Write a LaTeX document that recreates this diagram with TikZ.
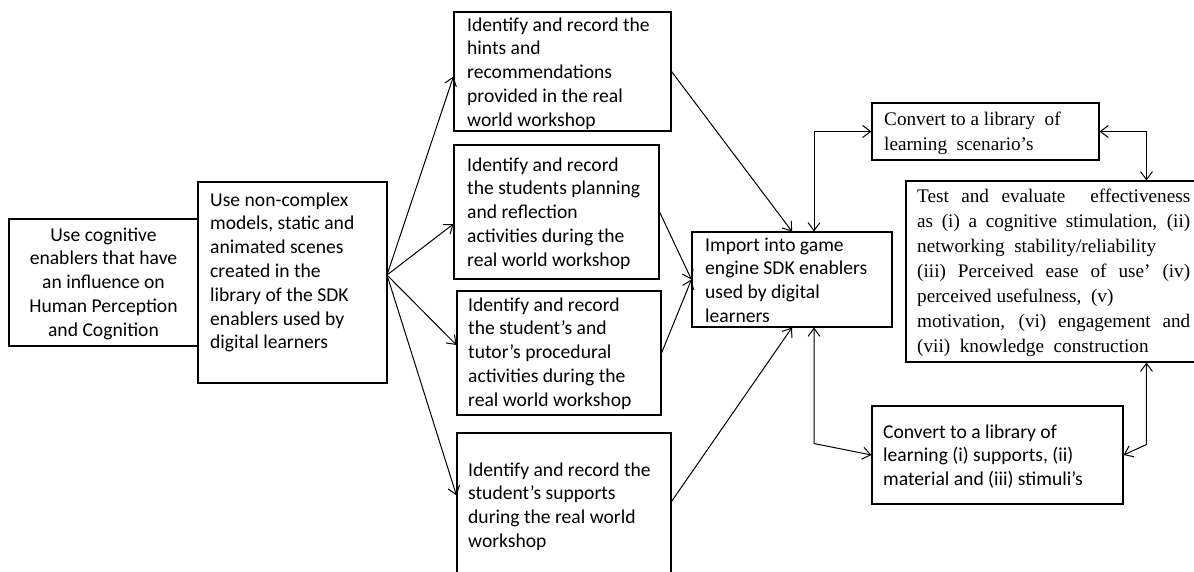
\documentclass[tikz,border=0pt]{standalone}
\usepackage{fontspec}
\setmainfont{Carlito}
\newfontfamily\serifface{Liberation Serif}
\usetikzlibrary{arrows.meta,fit}
\begin{document}
\begin{tikzpicture}[x=1bp,y=-1bp,
  box/.style={draw, line width=1.1bp, inner sep=0pt},
  txt/.style={inner sep=0pt, anchor=north west, align=left,
    font=\fontsize{19.6bp}{23.8bp}\selectfont},
  stxt/.style={inner sep=0pt, anchor=north west, align=left,
    font=\serifface\fontsize{19.2bp}{25bp}\selectfont},
  tip/.tip={Straight Barb[length=8bp,width=12bp]},
  link/.style={line width=1bp, -tip},
  dlink/.style={line width=1bp, tip-tip}]

\useasboundingbox (0,0) rectangle (1194,572);
\clip (0,0) rectangle (1194,572);

% boxes
\node[box, fit={(9,219)(198,346)}] (A) {};
\node[box, fit={(198,182)(387,383)}] (B) {};
\node[box, fit={(454,12)(671,131)}] (C1) {};
\node[box, fit={(454,145)(659,279)}] (C2) {};
\node[box, fit={(457,291)(661,415)}] (C3) {};
\node[box, fit={(457,433)(671,590)}] (C4) {};
\node[box, fit={(692,232)(892,327)}] (D) {};
\node[box, fit={(872,103)(1099,160)}] (E) {};
\node[box, fit={(906,181)(1215,362)}] (F) {};
\node[box, fit={(872,406)(1123,504)}] (G) {};

% texts (each block starts with a strut so its top edge is predictable)
\node[txt, anchor=north, align=center] (At) at (103.5,224.3)
  {\strut Use cognitive\\enablers that have\\an influence on\\Human Perception\\and Cognition};
\node[txt] (Bt) at (210,189.3)
  {\strut Use non-complex\\models, static and\\animated scenes\\created in the\\library of the SDK\\enablers used by\\digital learners};
\node[txt] (C1t) at (467,14.3)
  {\strut Identify and record the\\hints and\\recommendations\\provided in the real\\world workshop};
\node[txt] (C2t) at (467,154.3)
  {\strut Identify and record\\the students planning\\and reflection\\activities during the\\real world workshop};
\node[txt] (C3t) at (468,294.3)
  {\strut Identify and record\\the student’s and\\tutor’s procedural\\activities during the\\real world workshop};
\node[txt] (C4t) at (468,459.3)
  {\strut Identify and record the\\student’s supports\\during the real world\\workshop};
\node[txt] (Dt) at (705,234.3)
  {\strut Import into game\\engine SDK enablers\\used by digital\\learners};
\node[stxt] (Et) at (884,107.5)
  {\strut Convert to a library\ \ of\\learning\ \ scenario’s};
\node[stxt] (Ft) at (917,184.5)
  {\strut\makebox[273bp][s]{Test and evaluate\ \ effectiveness}\\
   \makebox[273bp][s]{as (i) a cognitive stimulation, (ii)}\\
   networking\ \ stability/reliability\\
   \makebox[273bp][s]{(iii) Perceived ease of use’ (iv)}\\
   perceived usefulness,\ \ (v)\\
   \makebox[273bp][s]{motivation, (vi) engagement and}\\
   (vii)\ \ knowledge\ \ construction};
\node[txt] (Gt) at (883,421.3)
  {\strut Convert to a library of\\learning (i) supports, (ii)\\material and (iii) stimuli’s};

% fan-out from the model library
\coordinate (Bout) at (387,275);
\draw[link] (Bout) -- ([yshift=-5bp]C1.west);
\draw[link] (Bout) -- ([yshift=-12bp]C2.west);
\draw[link] (Bout) -- ([yshift=8bp]C3.west);
\draw[link] (Bout) -- ([yshift=-63bp]C4.north west);

% recorded activities into the game engine
\draw[link] (C1.east) -- (D.north);
\draw[link] (C2.east) -- (D.west);
\draw[link] (C3.east) -- (D.west);
\draw[link] ([yshift=-69bp]C4.north east) -- (D.south);

% conversions and evaluation
\draw[dlink] ([xshift=22bp]D.north) |- (E.west);
\draw[dlink] (E.east) -| ([xshift=241bp]F.north west);
\draw[dlink] ([xshift=22bp]D.south) -- ++(0,116) -- (G.west);
\draw[dlink] ([xshift=241bp]F.south west) -- ++(0,82) -- (G.east);
\end{tikzpicture}
\end{document}
